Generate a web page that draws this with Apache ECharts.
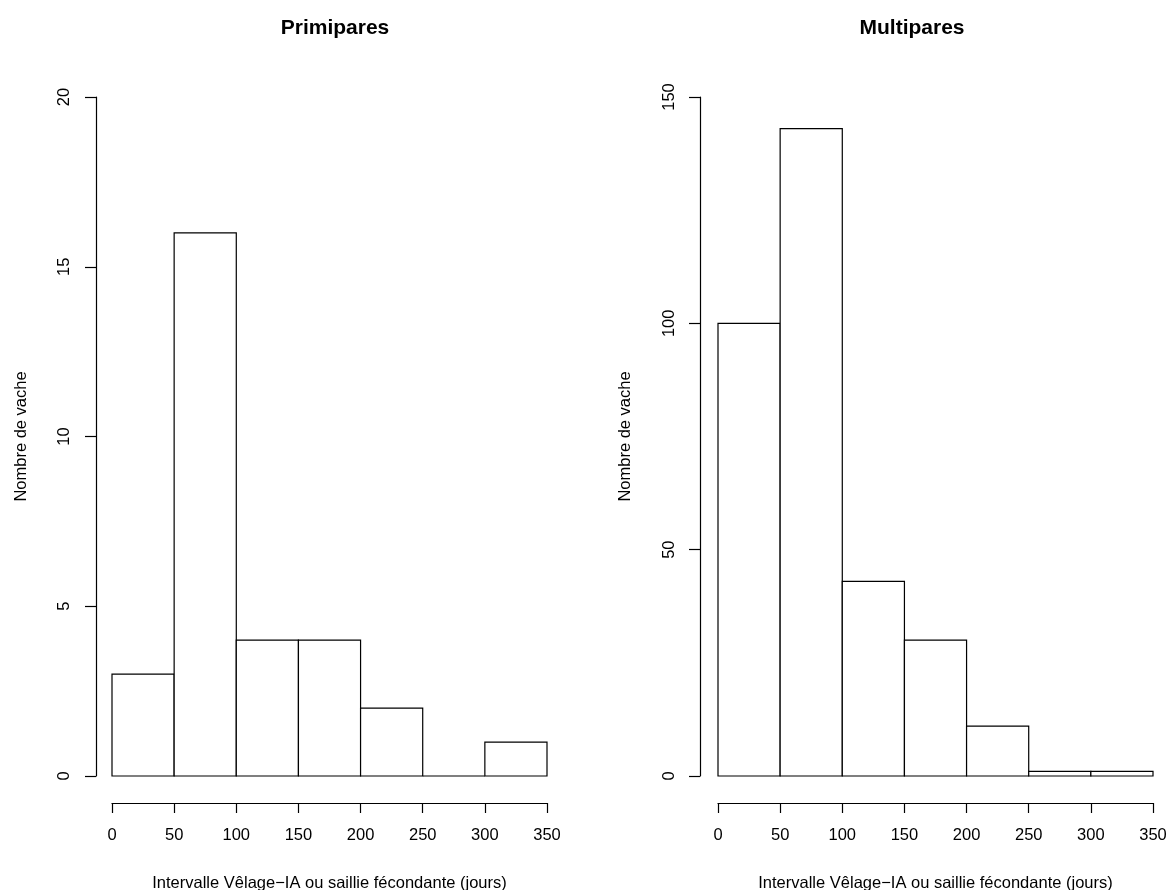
<!DOCTYPE html>
<html>
<head>
<meta charset="utf-8">
<script src="https://cdn.jsdelivr.net/npm/echarts@6/dist/echarts.min.js"></script>
<style>
html,body{margin:0;padding:0;background:#fff;}
#chart{width:1171px;height:890px;}
</style>
</head>
<body>
<div id="chart"></div>
<script>
const binEdges = [0, 50, 100, 150, 200, 250, 300, 350];
const primipares = [3, 16, 4, 4, 2, 0, 1];
const multipares = [100, 143, 43, 30, 11, 1, 1];
const titles = ["Primipares", "Multipares"];
const xTitle = "Intervalle Vêlage\u2212IA ou saillie fécondante (jours)";
const yTitle = "Nombre de vache";

const FONT = "Liberation Sans, Arial, sans-serif";

function toBins(counts) {
  return counts.map((c, i) => [binEdges[i], binEdges[i + 1], c]);
}

function renderBar(params, api) {
  const p0 = api.coord([api.value(0), 0]);
  const p1 = api.coord([api.value(1), api.value(2)]);
  return {
    type: 'rect',
    shape: { x: p0[0], y: p1[1], width: p1[0] - p0[0], height: p0[1] - p1[1] },
    style: { fill: '#ffffff', stroke: '#000000', lineWidth: 1.2 }
  };
}

function xAxisCfg(gi) {
  return {
    gridIndex: gi, type: 'value', min: 0, max: 350, interval: 50,
    offset: 27, position: 'bottom',
    axisLine: { show: true, onZero: false, lineStyle: { color: '#000', width: 1.2 } },
    axisTick: { show: true, length: 10, lineStyle: { color: '#000', width: 1.2 } },
    axisLabel: { show: true, margin: 24, color: '#000', fontSize: 16.5, fontFamily: FONT },
    splitLine: { show: false },
    name: xTitle, nameLocation: 'middle', nameGap: 72,
    nameTextStyle: { color: '#000', fontSize: 16.5, fontFamily: FONT }
  };
}

function yAxisCfg(gi, max, interval, off, nameGap, margin) {
  return {
    gridIndex: gi, type: 'value', min: 0, max: max, interval: interval,
    offset: off, position: 'left',
    axisLine: { show: true, onZero: false, lineStyle: { color: '#000', width: 1.2 } },
    axisTick: { show: true, length: 11, lineStyle: { color: '#000', width: 1.2 } },
    axisLabel: { show: true, rotate: 90, margin: margin, color: '#000', fontSize: 16.5, fontFamily: FONT },
    splitLine: { show: false },
    name: yTitle, nameLocation: 'middle', nameGap: nameGap, nameRotate: 90,
    nameTextStyle: { color: '#000', fontSize: 16.5, fontFamily: FONT }
  };
}

const chart = echarts.init(document.getElementById('chart'), null, { renderer: 'canvas' });
chart.setOption({
  backgroundColor: '#ffffff',
  animation: false,
  title: [
    { text: titles[0], left: 330, top: 13, textAlign: 'center',
      textStyle: { fontSize: 21, fontWeight: 'bold', color: '#000', fontFamily: FONT } },
    { text: titles[1], left: 907, top: 13, textAlign: 'center',
      textStyle: { fontSize: 21, fontWeight: 'bold', color: '#000', fontFamily: FONT } }
  ],
  grid: [
    { left: 112, right: 624, top: 97, bottom: 114, containLabel: false, outerBoundsMode: 'none' },
    { left: 718, right: 18, top: 97, bottom: 114, containLabel: false, outerBoundsMode: 'none' }
  ],
  xAxis: [xAxisCfg(0), xAxisCfg(1)],
  yAxis: [yAxisCfg(0, 20, 5, 16, 66, 23), yAxisCfg(1, 150, 50, 18, 66, 22)],
  series: [
    { type: 'custom', xAxisIndex: 0, yAxisIndex: 0, renderItem: renderBar,
      data: toBins(primipares), encode: { x: [0, 1], y: 2 } },
    { type: 'custom', xAxisIndex: 1, yAxisIndex: 1, renderItem: renderBar,
      data: toBins(multipares), encode: { x: [0, 1], y: 2 } }
  ]
});
</script>
</body>
</html>
